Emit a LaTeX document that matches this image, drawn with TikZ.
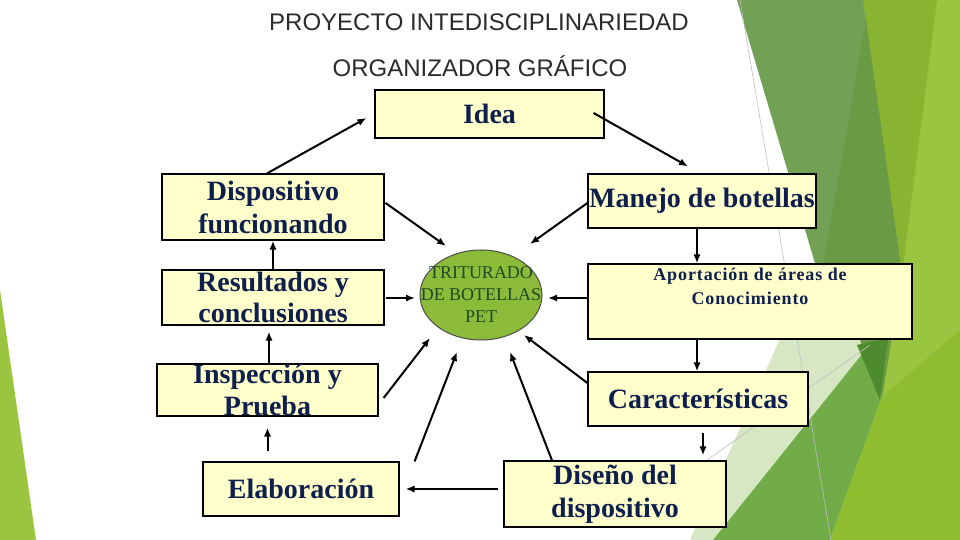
\documentclass[tikz,border=0pt]{standalone}
\usepackage{fontspec}
\setmainfont{Liberation Serif}
\newfontfamily\headfont{Liberation Sans}
\usetikzlibrary{arrows.meta,calc,shapes.geometric}
\definecolor{ink}{HTML}{0E1F4D}
\definecolor{paper}{HTML}{FFFFCC}
\definecolor{hubgreen}{HTML}{8CBB3A}
\definecolor{hubtext}{HTML}{1D4A22}
\definecolor{olive}{HTML}{72A055}
\definecolor{olivedark}{HTML}{6A9A43}
\definecolor{lime}{HTML}{88B431}
\definecolor{limelight}{HTML}{9AC540}
\definecolor{limebottom}{HTML}{8EBE30}
\definecolor{midgreen}{HTML}{72AC48}
\definecolor{deepgreen}{HTML}{4E8A2E}
\definecolor{palegreen}{HTML}{D8E7C3}
\definecolor{titlegray}{HTML}{2B2B2B}

\begin{document}
\begin{tikzpicture}[
  x=0.5pt, y=-0.5pt,
  box/.style={draw=black, line width=0.6pt, fill=paper, text=ink,
              font=\bfseries\fontsize{14}{16.5}\selectfont,
              align=center, inner sep=0pt},
  hub/.style={ellipse, draw=black!70, line width=0.5pt, fill=hubgreen,
              minimum width=61pt, minimum height=45pt, inner sep=0pt},
  hublbl/.style={font=\fontsize{9}{11}\selectfont, text=hubtext,
                 align=center, inner sep=0pt},
  smalllbl/.style={font=\bfseries\fontsize{9}{12}\selectfont\addfontfeature{LetterSpace=5},
                   text=ink, align=center, inner sep=0pt},
  head/.style={font=\headfont\fontsize{12}{14}\selectfont, text=titlegray,
               inner sep=0pt},
  ar/.style={-{Latex[length=4.5pt,width=3.6pt]}, line width=1pt, draw=black},
  facet/.style={draw=none},
  thin/.style={draw=black!25, line width=0.3pt},
]
\useasboundingbox (0,0) rectangle (960,540);

% ---------------- background facets ----------------
\fill[white] (0,0) rectangle (960,540);
\fill[facet, limelight] (0,290) -- (36,540) -- (0,540) -- cycle;
\fill[facet, limelight] (863,0) -- (960,0) -- (960,540) -- (830,540) -- (882,397) -- cycle;
\fill[facet, lime] (863,0) -- (937,0) -- (902,275) -- cycle;
\fill[facet, olive] (737,0) -- (863,0) -- (902,275) -- (882,397) -- (855,345) -- (817,270) -- cycle;
\fill[facet, olivedark] (866,20) -- (902,275) -- (882,397) -- (855,345) -- (823,267) -- cycle;
\fill[facet, palegreen] (780,339) -- (860,339) -- (863,353) -- (713,540) -- (690,540) -- cycle;
\fill[facet, midgreen] (713,540) -- (863,353) -- (882,397) -- (830,540) -- cycle;
\fill[facet, limebottom] (830,540) -- (882,397) -- (960,330) -- (960,540) -- cycle;
\fill[facet, deepgreen] (857,345) -- (888,338) -- (880,400) -- cycle;
\draw[thin] (740,0) -- (831,540);
\draw[thin] (700,465) -- (870,345);

% ---------------- titles ----------------
\node[head] (title) at (479,22) {PROYECTO INTEDISCIPLINARIEDAD};
\node[head] (subtitle) at (480,66) {ORGANIZADOR GRÁFICO};

% ---------------- boxes ----------------
\node[box, minimum width=114.5pt, minimum height=24pt] (idea) at (489.5,114) {Idea};
\node[box, minimum width=111pt, minimum height=33pt] (disp) at (273,207) {Dispositivo\\funcionando};
\node[box, minimum width=114pt, minimum height=27pt] (manejo) at (702,201) {Manejo de botellas};
\node[box, minimum width=111pt, minimum height=27.5pt, inner ysep=-1.5pt,
      font=\bfseries\fontsize{14}{15.5}\selectfont] (result) at (273,297.5) {Resultados y\\conclusiones};
\node[box, minimum width=110.5pt, minimum height=26pt, inner ysep=-2pt,
      font=\bfseries\fontsize{14}{16}\selectfont] (insp) at (267.5,390) {Inspección y\\Prueba};
\node[box, minimum width=98pt, minimum height=27pt] (elab) at (301,489) {Elaboración};
\node[box, minimum width=162pt, minimum height=37.5pt] (aport) at (750,301.5) {};
\node[smalllbl, anchor=north] (aportlbl) at ($(aport.north)+(0,4)$) {Aportación de áreas de\\Conocimiento};
\node[box, minimum width=110pt, minimum height=27pt] (caract) at (698,399) {Características};
\node[box, minimum width=111pt, minimum height=33pt] (diseno) at (615,494) {Diseño del\\dispositivo};

% the hub in the middle
\node[hub] (trit) at (481,295) {};
\node[hublbl] (tritlbl) at (trit) {TRITURADO\\DE BOTELLAS\\PET};

% ---------------- connectors ----------------
\draw[ar] ($(disp.north)+(-6,0)$) -- ($(idea.west)+(-8,4)$);
\draw[ar] ($(idea.east)+(-11,-1)$) -- ($(manejo.north)+(-14,-7)$);
\draw[ar] ($(disp.east)+(1,-4)$) -- ($(trit)+(-35,-49)$);
\draw[ar] ($(manejo.west)+(0,2)$) -- ($(trit)+(49,-51)$);
\draw[ar] ($(manejo.south)+(-5,0)$) -- ($(aport.north)+(-53,0)$);
\draw[ar] ($(aport.south)+(-53,0)$) -- ($(caract.north)+(-1,0)$);
\draw[ar] ($(caract.south)+(5,6)$) -- ($(diseno.north)+(88,-5)$);
\draw[ar] (result.north) -- (disp.south);
\draw[ar] ($(result.east)+(1,0.5)$) -- ($(trit)+(-66,3)$);
\draw[ar] ($(aport.west)+(0,-3.5)$) -- ($(trit)+(67,3)$);
\draw[ar] ($(insp.north)+(1.5,0)$) -- ($(result.south)+(-4,6)$);
\draw[ar] ($(insp.east)+(5,8)$) -- ($(trit)+(-51,43)$);
\draw[ar] ($(elab.north east)+(15,0)$) -- ($(trit)+(-24,57)$);
\draw[ar] ($(diseno.north)+(-63,0)$) -- ($(trit)+(29,57)$);
\draw[ar] ($(caract.west)+(0,-16)$) -- ($(trit)+(43,40)$);
\draw[ar] ($(diseno.west)+(-5,-5)$) -- ($(elab.east)+(6,0)$);
\draw[ar] ($(elab.north)+(-33.5,-10)$) -- ($(insp.south)+(0,11)$);

\end{tikzpicture}
\end{document}
